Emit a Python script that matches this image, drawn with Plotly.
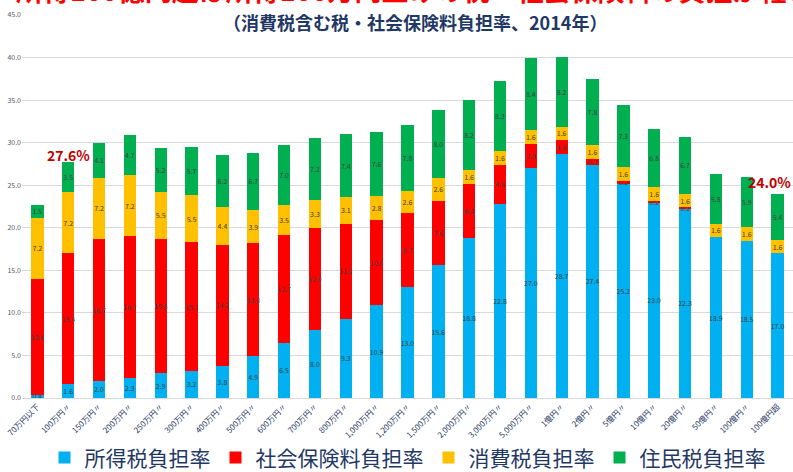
import plotly.graph_objects as go

categories = ["70万円以下", "100万円〃", "150万円〃", "200万円〃", "250万円〃", "300万円〃",
              "400万円〃", "500万円〃", "600万円〃", "700万円〃", "800万円〃", "1,000万円〃",
              "1,200万円〃", "1,500万円〃", "2,000万円〃", "3,000万円〃", "5,000万円〃",
              "1億円〃", "2億円〃", "5億円〃", "10億円〃", "20億円〃", "50億円〃",
              "100億円〃", "100億円超"]

income_tax = [0.4, 1.6, 2.0, 2.3, 2.9, 3.2, 3.8, 4.9, 6.5, 8.0, 9.3, 10.9, 13.0, 15.6,
              18.8, 22.8, 27.0, 28.7, 27.4, 25.2, 23.0, 22.3, 18.9, 18.5, 17.0]
social_ins = [13.6, 15.4, 16.7, 16.7, 15.8, 15.1, 14.2, 13.3, 12.7, 12.0, 11.2, 10.0, 8.7,
              7.6, 6.4, 4.6, 2.9, 1.6, 0.7, 0.3, 0.2, 0.1, 0.0, 0.0, 0.0]
consumption = [7.2, 7.2, 7.2, 7.2, 5.5, 5.5, 4.4, 3.9, 3.5, 3.3, 3.1, 2.8, 2.6, 2.6,
               1.6, 1.6, 1.6, 1.6, 1.6, 1.6, 1.6, 1.6, 1.6, 1.6, 1.6]
resident = [1.5, 3.5, 4.1, 4.7, 5.2, 5.7, 6.2, 6.7, 7.0, 7.2, 7.4, 7.6, 7.8, 8.0,
            8.2, 8.3, 8.4, 8.2, 7.8, 7.3, 6.8, 6.7, 5.8, 5.9, 5.4]

series = [
    ("所得税負担率", income_tax, "#00B0F0"),
    ("社会保険料負担率", social_ins, "#FF0000"),
    ("消費税負担率", consumption, "#FFC000"),
    ("住民税負担率", resident, "#00B050"),
]

JP = "Noto Sans CJK JP"
NAVY = "#1F3864"

fig = go.Figure()
for name, vals, color in series:
    fig.add_trace(go.Bar(
        x=categories, y=vals, name=name, marker_color=color, marker_line_width=0,
        texttemplate="%{y:.1f}", textposition="inside", insidetextanchor="middle",
        textangle=0, constraintext="none",
        textfont=dict(size=7, color="#404040", family=JP),
    ))

fig.update_layout(
    barmode="stack",
    bargap=0.6,
    width=793, height=472,
    margin=dict(l=22, r=0, t=15, b=74, autoexpand=False),
    paper_bgcolor="white", plot_bgcolor="white",
    font=dict(family=JP),
    uniformtext=dict(minsize=7, mode="show"),
    legend=dict(orientation="h", x=0.5, xanchor="center", yref="container",
                y=0.03, yanchor="middle",
                font=dict(size=21, color=NAVY, family=JP), traceorder="normal",
                itemwidth=30, bgcolor="rgba(0,0,0,0)"),
    xaxis=dict(tickangle=-45, tickfont=dict(size=8, color=NAVY, family=JP),
               showgrid=False, showline=True, linecolor="#d9d9d9", ticks="",
               automargin=False),
    yaxis=dict(range=[0, 45], dtick=5, tickformat=".1f",
               tickfont=dict(size=7, color="#595959", family=JP),
               gridcolor="#d9d9d9", gridwidth=1, zeroline=False, ticklen=0,
               automargin=False),
    annotations=[
        dict(text="所得100億円超は所得100万円並みの税・社会保険料の負担が軽い",
             xref="paper", yref="paper", x=0.51, y=1.066, yanchor="middle",
             showarrow=False, font=dict(size=27, color="#FF0000", family=JP, weight="bold")),
        dict(text="（消費税含む税・社会保険料負担率、2014年）",
             xref="paper", yref="paper", x=0.51, y=0.983, yanchor="middle",
             showarrow=False, font=dict(size=18, color=NAVY, family=JP, weight="bold")),
        dict(text="27.6%", xref="x", yref="y", x="100万円〃", y=28.6,
             showarrow=False, xanchor="center", yanchor="middle",
             font=dict(size=14, color="#C00000", family=JP, weight="bold")),
        dict(text="24.0%", xref="paper", yref="y", x=1.0, y=25.4,
             showarrow=False, xanchor="right", yanchor="middle",
             font=dict(size=14, color="#C00000", family=JP, weight="bold")),
    ],
)

fig.write_html("out.html", config={"displayModeBar": False},
               post_script="document.body.style.margin='0';document.body.style.overflow='hidden';")
